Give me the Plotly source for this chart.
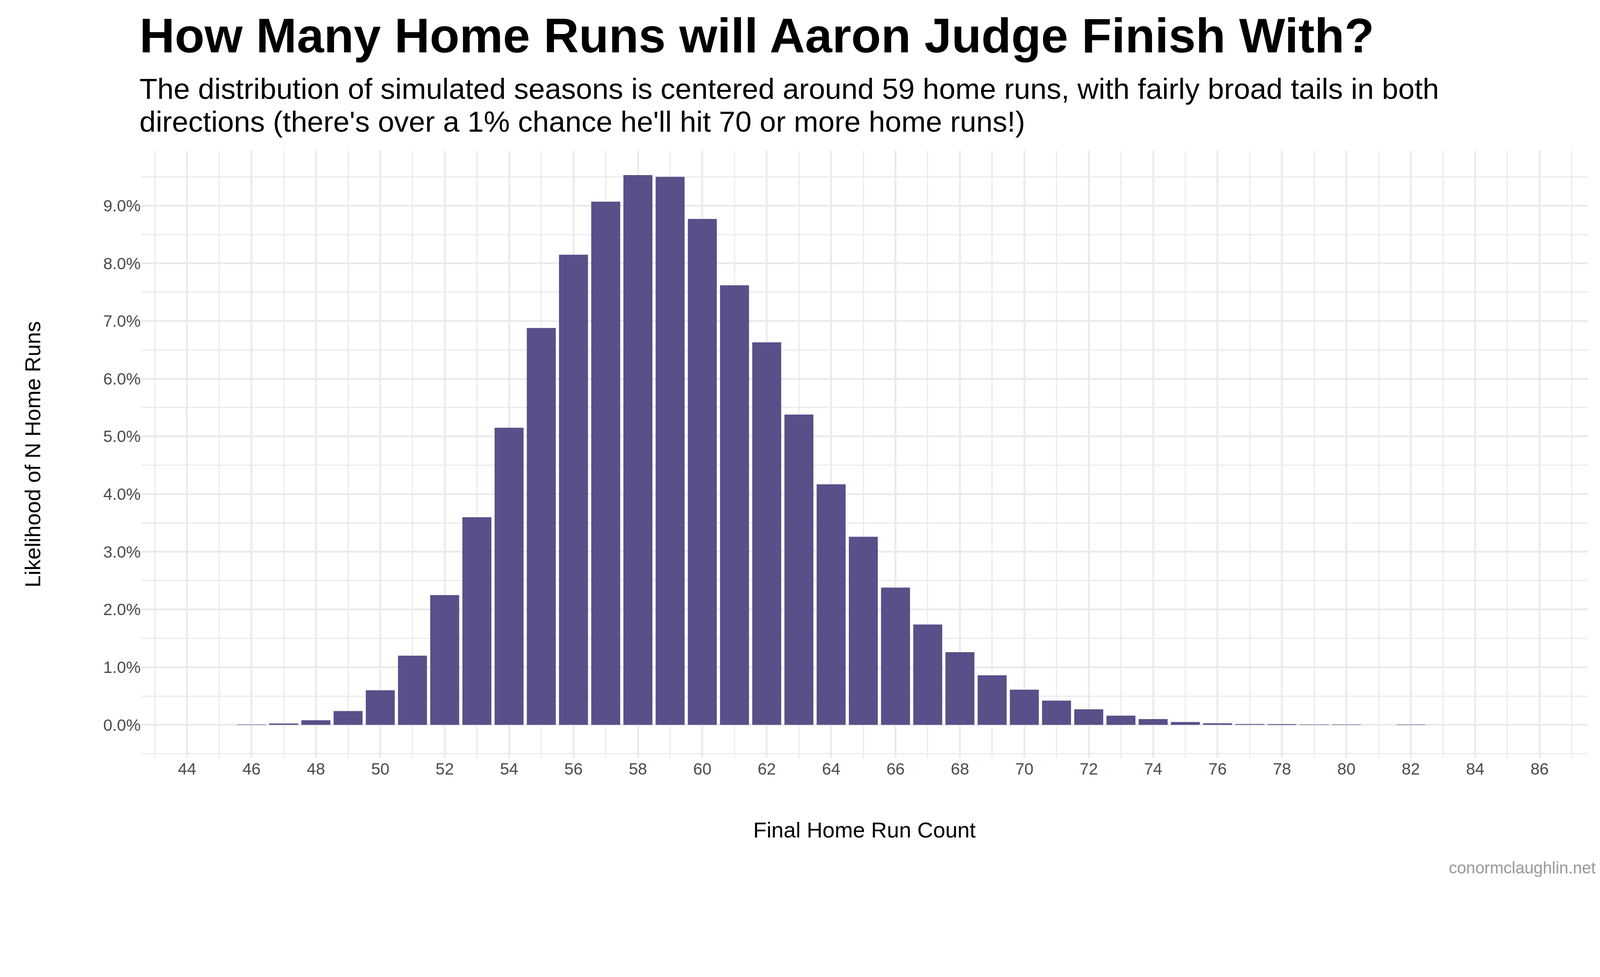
import plotly.graph_objects as go

home_runs = list(range(46, 83))
likelihood = [0.004, 0.025, 0.08, 0.24, 0.60, 1.20, 2.25, 3.60, 5.15, 6.88,
              8.15, 9.07, 9.53, 9.50, 8.77, 7.62, 6.63, 5.38, 4.17, 3.26,
              2.38, 1.74, 1.26, 0.86, 0.61, 0.42, 0.27, 0.16, 0.10, 0.05,
              0.027, 0.014, 0.008, 0.003, 0.003, 0.0, 0.003]
likelihood = [v / 100 for v in likelihood]

title = "How Many Home Runs will Aaron Judge Finish With?"
subtitle_1 = "The distribution of simulated seasons is centered around 59 home runs, with fairly broad tails in both"
subtitle_2 = "directions (there's over a 1% chance he'll hit 70 or more home runs!)"
caption = "conormclaughlin.net"

grid = "#EBEBEB"
font = "Liberation Sans"
S = 1 / 1.1  # page is rendered with a 1.1 device scale


def px(v):
    return round(v * S)


fig = go.Figure(go.Bar(x=home_runs, y=likelihood, width=0.9,
                       marker=dict(color="#575089", line=dict(width=0))))

fig.update_layout(
    width=px(4500), height=px(2500),
    paper_bgcolor="white", plot_bgcolor="white",
    margin=dict(l=px(388), r=px(37), t=px(416), b=px(376)),
    font=dict(family=font, color="black"),
    showlegend=False,
)

fig.update_xaxes(
    range=[42.57, 87.5], tick0=44, dtick=2, showgrid=True,
    gridcolor=grid, gridwidth=px(6), zeroline=False, showline=False,
    ticks="", tickfont=dict(size=px(46), color="#4D4D4D"),
    minor=dict(dtick=1, tick0=44, showgrid=True, gridcolor=grid, gridwidth=px(3)),
    title=dict(text="Final Home Run Count", font=dict(size=px(62)), standoff=px(124)),
)
fig.update_yaxes(
    range=[-0.0057, 0.0995], tick0=0, dtick=0.01, tickformat=".1%",
    showgrid=True, gridcolor=grid, gridwidth=px(6), zeroline=False,
    ticks="", tickfont=dict(size=px(46), color="#4D4D4D"),
    minor=dict(dtick=0.005, tick0=0, showgrid=True, gridcolor=grid, gridwidth=px(3)),
    title=dict(text="Likelihood of N Home Runs", font=dict(size=px(62)), standoff=px(156)),
)

fig.add_annotation(text="<b>" + title + "</b>", xref="paper", yref="paper",
                   x=-0.0015, y=1.19, xanchor="left", yanchor="middle",
                   showarrow=False, font=dict(size=px(138), family=font, color="black"))
for text, y in [(subtitle_1, 1.1024), (subtitle_2, 1.0486)]:
    fig.add_annotation(text=text, xref="paper", yref="paper",
                       x=-0.0015, y=y, xanchor="left", yanchor="middle", align="left",
                       showarrow=False, font=dict(size=px(83), family=font, color="black"))
fig.add_annotation(text=caption, xref="paper", yref="paper",
                   x=1.006, y=-0.1815, xanchor="right", yanchor="middle",
                   showarrow=False, font=dict(size=px(46), family=font, color="#999999"))

fig.write_html("out.html")
